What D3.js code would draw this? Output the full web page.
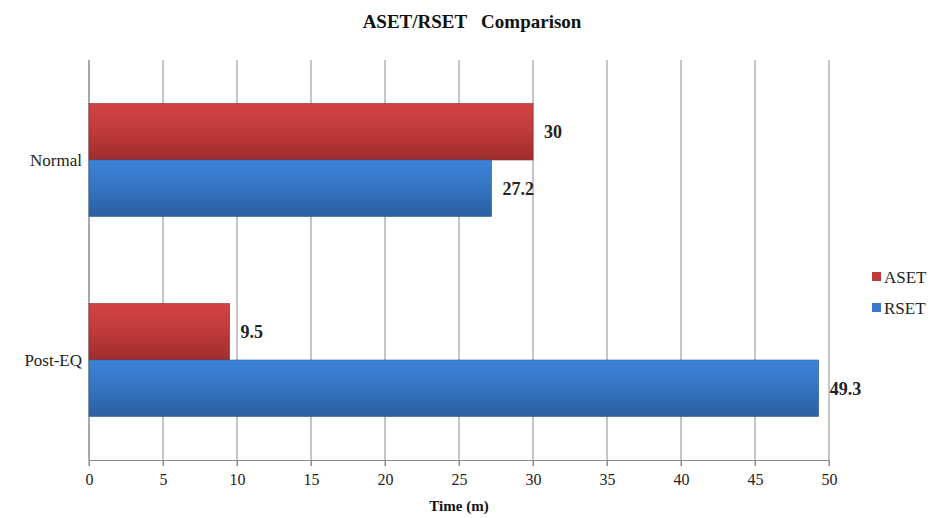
<!DOCTYPE html>
<html><head><meta charset="utf-8">
<script src="https://cdn.jsdelivr.net/npm/d3@7"></script>
<style>body{margin:0;background:#fff}</style>
</head><body>
<script>
const categories = ["Normal", "Post-EQ"];
const seriesNames = ["ASET", "RSET"];
const aset = [30, 9.5];
const rset = [27.2, 49.3];
const xTicks = [0,5,10,15,20,25,30,35,40,45,50];
const title = "ASET/RSET   Comparison";
const xLabel = "Time (m)";

const W = 933, H = 518;
const m = {l: 89, r: 104, t: 60, b: 58};
const svg = d3.select("body").append("svg").attr("width", W).attr("height", H)
  .style("font-family", "'Liberation Serif', 'Times New Roman', serif");

const defs = svg.append("defs");
function grad(id, c1, c2, c3) {
  const g = defs.append("linearGradient").attr("id", id).attr("x1",0).attr("y1",0).attr("x2",0).attr("y2",1);
  g.append("stop").attr("offset","0%").attr("stop-color",c1);
  g.append("stop").attr("offset","45%").attr("stop-color",c2);
  g.append("stop").attr("offset","100%").attr("stop-color",c3);
}
grad("gRed", "#d24343", "#c13b3b", "#9e2d2d");
grad("gBlue", "#3c84d6", "#3576c4", "#2b5fa2");
const colors = {ASET: "url(#gRed)", RSET: "url(#gBlue)"};
const legendColors = {ASET: "#c0393b", RSET: "#3a78c9"};

const x = d3.scaleLinear().domain([0, 50]).range([m.l, W - m.r]);
const y0 = d3.scaleBand().domain(categories).range([m.t, H - m.b]).paddingInner(0.435).paddingOuter(0.2175);
const y1 = d3.scaleBand().domain(seriesNames).range([0, y0.bandwidth()]);

// gridlines
svg.append("g").selectAll("line").data(xTicks).join("line")
  .attr("x1", d => x(d)).attr("x2", d => x(d))
  .attr("y1", m.t).attr("y2", H - m.b + 6)
  .attr("stroke", "#8c8c8c").attr("stroke-width", 1);

// x axis
const xa = svg.append("g").attr("transform", `translate(0,${H - m.b})`)
  .call(d3.axisBottom(x).tickValues(xTicks).tickSize(6).tickPadding(8));
xa.select(".domain").attr("stroke", "#8c8c8c");
xa.selectAll(".tick line").attr("stroke", "#8c8c8c");
xa.selectAll("text").attr("font-size", 16).attr("fill", "#222").attr("font-family", "'Liberation Serif', serif");

// y axis line
svg.append("line").attr("x1", m.l).attr("x2", m.l).attr("y1", m.t).attr("y2", H - m.b)
  .attr("stroke", "#8c8c8c");

// category labels
svg.append("g").selectAll("text").data(categories).join("text")
  .attr("x", m.l - 7).attr("y", d => y0(d) + y0.bandwidth() / 2)
  .attr("text-anchor", "end").attr("dy", "0.35em")
  .attr("font-size", 17).attr("fill", "#222").text(d => d);

const data = categories.map((c, i) => ({cat: c, vals: [{s: "ASET", v: aset[i]}, {s: "RSET", v: rset[i]}]}));

const groups = svg.append("g").selectAll("g").data(data).join("g")
  .attr("transform", d => `translate(0,${y0(d.cat)})`);

groups.selectAll("rect").data(d => d.vals).join("rect")
  .attr("x", x(0)).attr("y", d => y1(d.s))
  .attr("width", d => x(d.v) - x(0)).attr("height", y1.bandwidth())
  .attr("fill", d => colors[d.s])
  .attr("stroke", d => d.s === "ASET" ? "#8e2a2a" : "#2a5a96").attr("stroke-width", 0.6);

groups.selectAll("text").data(d => d.vals).join("text")
  .attr("x", d => x(d.v) + 11).attr("y", d => y1(d.s) + y1.bandwidth() / 2)
  .attr("dy", "0.35em").attr("font-size", 18).attr("font-weight", "bold").attr("fill", "#222")
  .text(d => d.v);

// title
svg.append("text").attr("x", 472).attr("y", 28).attr("text-anchor", "middle")
  .attr("font-size", 19).attr("font-weight", "bold").attr("fill", "#111")
  .attr("xml:space", "preserve").style("white-space", "pre").text(title);

// x label
svg.append("text").attr("x", x(25)).attr("y", 511).attr("text-anchor", "middle")
  .attr("font-size", 15).attr("font-weight", "bold").attr("fill", "#111").text(xLabel);

// legend
const lg = svg.append("g").attr("transform", "translate(872,277)");
seriesNames.forEach((s, i) => {
  const g = lg.append("g").attr("transform", `translate(0,${i * 31})`);
  g.append("rect").attr("x", 0).attr("y", -5).attr("width", 9).attr("height", 9).attr("fill", legendColors[s]);
  g.append("text").attr("x", 12).attr("y", 0).attr("dy", "0.35em").attr("font-size", 17).attr("fill", "#222").text(s);
});
</script>
</body></html>
